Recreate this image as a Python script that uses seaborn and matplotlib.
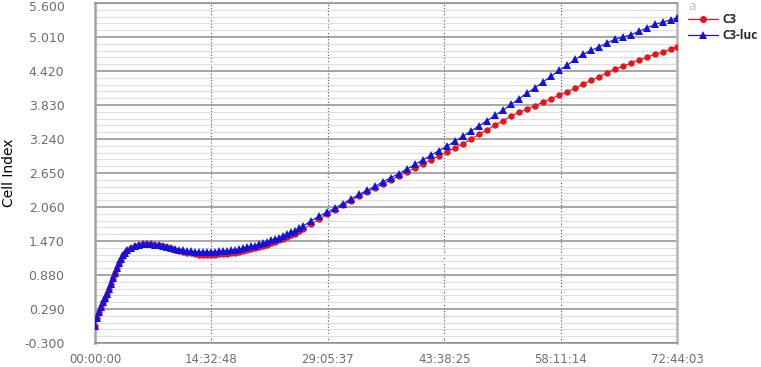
import matplotlib
matplotlib.use("Agg")
import matplotlib.pyplot as plt
import matplotlib.transforms as mtransforms
import seaborn as sns
import numpy as np
from matplotlib.lines import Line2D

# ---------------- data ----------------
hours = [0, 0.25, 0.5, 0.75, 1, 1.25, 1.5, 1.75, 2, 2.25, 2.5, 2.75, 3, 3.25, 3.5, 3.75, 4,
         4.5, 5, 5.5, 6, 6.5, 7, 7.5, 8, 8.5, 9, 9.5, 10, 10.5, 11, 11.5, 12, 12.5, 13, 13.5,
         14, 14.5, 15, 15.5, 16, 16.5, 17, 17.5, 18, 18.5, 19, 19.5, 20, 20.5, 21, 21.5, 22,
         22.5, 23, 23.5, 24, 24.5, 25, 25.5, 26,
         27, 28, 29, 30, 31, 32, 33, 34, 35, 36, 37, 38, 39, 40, 41, 42, 43, 44, 45, 46, 47,
         48, 49, 50, 51, 52, 53, 54, 55, 56, 57, 58, 59, 60, 61, 62, 63, 64, 65, 66, 67, 68,
         69, 70, 71, 72, 72.73]

c3 = [0.00, 0.13, 0.24, 0.33, 0.41, 0.48, 0.55, 0.63, 0.72, 0.82, 0.92, 1.01, 1.09, 1.16, 1.22, 1.27, 1.31,
      1.35, 1.38, 1.40, 1.41, 1.415, 1.41, 1.405, 1.395, 1.38, 1.365, 1.34, 1.32, 1.30, 1.285, 1.27,
      1.255, 1.245, 1.235, 1.23, 1.23, 1.23, 1.235, 1.24, 1.245, 1.25, 1.26, 1.27, 1.28, 1.295, 1.31,
      1.325, 1.34, 1.36, 1.38, 1.405, 1.43, 1.455, 1.48, 1.51, 1.54, 1.57, 1.60, 1.64, 1.68,
      1.76, 1.85, 1.93, 2.01, 2.09, 2.17, 2.25, 2.32, 2.39, 2.46, 2.53, 2.60, 2.67, 2.74, 2.81, 2.88,
      2.95, 3.02, 3.09, 3.16, 3.24, 3.32, 3.40, 3.48, 3.56, 3.64, 3.70, 3.76, 3.82, 3.88, 3.94, 4.00,
      4.06, 4.12, 4.19, 4.26, 4.32, 4.39, 4.45, 4.50, 4.56, 4.61, 4.66, 4.71, 4.75, 4.80, 4.84]

c3_luc = [0.00, 0.13, 0.24, 0.33, 0.41, 0.48, 0.55, 0.63, 0.72, 0.82, 0.92, 1.01, 1.09, 1.16, 1.22, 1.27, 1.31,
          1.35, 1.38, 1.40, 1.41, 1.415, 1.41, 1.405, 1.395, 1.38, 1.365, 1.35, 1.335, 1.32, 1.31, 1.30,
          1.29, 1.285, 1.28, 1.28, 1.28, 1.28, 1.285, 1.29, 1.295, 1.30, 1.31, 1.32, 1.33, 1.345, 1.36,
          1.375, 1.39, 1.41, 1.43, 1.455, 1.48, 1.505, 1.53, 1.56, 1.59, 1.62, 1.65, 1.69, 1.73,
          1.82, 1.90, 1.97, 2.04, 2.12, 2.20, 2.28, 2.35, 2.42, 2.50, 2.57, 2.64, 2.72, 2.80, 2.88, 2.96,
          3.04, 3.12, 3.20, 3.29, 3.38, 3.47, 3.56, 3.65, 3.74, 3.84, 3.94, 4.04, 4.13, 4.23, 4.33, 4.43,
          4.52, 4.62, 4.71, 4.78, 4.84, 4.91, 4.97, 5.01, 5.05, 5.11, 5.17, 5.23, 5.27, 5.31, 5.34]

series_names = ["C3", "C3-luc"]
x_tick_labels = ["00:00:00", "14:32:48", "29:05:37", "43:38:25", "58:11:14", "72:44:03"]
y_tick_values = [-0.300, 0.290, 0.880, 1.470, 2.060, 2.650, 3.240, 3.830, 4.420, 5.010, 5.600]
y_label = "Cell Index"

# ---------------- styling ----------------
sns.set_style("white")
plt.rcParams["font.family"] = ["DejaVu Sans"]

RED = "#e8141c"
BLUE = "#1212e0"
GRID_MAJOR = "#8e8e8e"
GRID_MINOR = "#dedede"
TICK_TXT = "#6e6e6e"

fig = plt.figure(figsize=(7.61, 3.67), dpi=100)
ax = fig.add_axes([95 / 761, 1 - 343 / 367, 582 / 761, 340 / 367])

sns.lineplot(x=hours, y=c3, ax=ax, color=RED, marker="o", markersize=4.6,
             markeredgewidth=0, linewidth=0.8, zorder=3)
sns.lineplot(x=hours, y=c3_luc, ax=ax, color=BLUE, marker="^", markersize=5.6,
             markeredgewidth=0, linewidth=0.8, zorder=4)


def to_hours(s):
    h, m, sec = (int(v) for v in s.split(":"))
    return h + m / 60 + sec / 3600


x_pos = [to_hours(s) for s in x_tick_labels]
ax.set_xlim(x_pos[0], x_pos[-1])
ax.set_ylim(y_tick_values[0], y_tick_values[-1])
ax.set_xticks(x_pos)
ax.set_xticklabels(x_tick_labels)
ax.set_yticks(y_tick_values)
ax.set_yticklabels([f"{v:.3f}" for v in y_tick_values])

minor = []
for a, b in zip(y_tick_values[:-1], y_tick_values[1:]):
    minor.extend(np.linspace(a, b, 6)[1:-1])
ax.set_yticks(minor, minor=True)

ax.grid(which="major", axis="y", color=GRID_MAJOR, linewidth=1.1)
ax.grid(which="minor", axis="y", color=GRID_MINOR, linewidth=0.8)
ax.grid(which="major", axis="x", color="#6a6a6a", linewidth=0.9, linestyle=(0, (1, 1.5)))
ax.set_axisbelow(True)

for side in ["top", "bottom"]:
    ax.spines[side].set_color(GRID_MAJOR)
    ax.spines[side].set_linewidth(1.1)
ax.spines["left"].set_color("#a4a4a4")
ax.spines["left"].set_linewidth(1.8)
ax.spines["right"].set_color("#b4b4b4")
ax.spines["right"].set_linewidth(1.8)

ax.tick_params(axis="y", which="major", length=13, width=1.1, color=GRID_MAJOR,
               labelcolor=TICK_TXT, labelsize=9, pad=9)
ax.tick_params(axis="y", which="minor", length=0)
ax.tick_params(axis="x", which="major", length=6, width=1.1, color=GRID_MAJOR,
               labelcolor=TICK_TXT, labelsize=8.5, pad=1.5)

# nudge the topmost y label down a little so it stays inside the canvas
top_lbl = ax.yaxis.get_major_ticks()[-1].label1
top_lbl.set_transform(top_lbl.get_transform() +
                      mtransforms.ScaledTranslation(0, -3 / 100, fig.dpi_scale_trans))

ax.set_xlabel("")
ax.set_ylabel(y_label, fontsize=10, color="black")
ax.yaxis.set_label_coords(-0.136, 0.5)

handles = [
    Line2D([0], [0], color=RED, marker="o", markersize=5, markeredgewidth=0, linewidth=0.9),
    Line2D([0], [0], color=BLUE, marker="^", markersize=6, markeredgewidth=0, linewidth=0.9),
]
ax.legend(handles, series_names, loc="upper left", bbox_to_anchor=(1.01, 0.985),
          frameon=False, handlelength=2.6, handletextpad=0.35, labelspacing=0.25,
          borderaxespad=0, prop={"family": "Open Sans", "weight": "bold", "size": 8.5})

fig.text(688 / 761, 1 - 10 / 367, "a", color="#c4c4c4", fontsize=9)

fig.savefig("out.png", dpi=100)
